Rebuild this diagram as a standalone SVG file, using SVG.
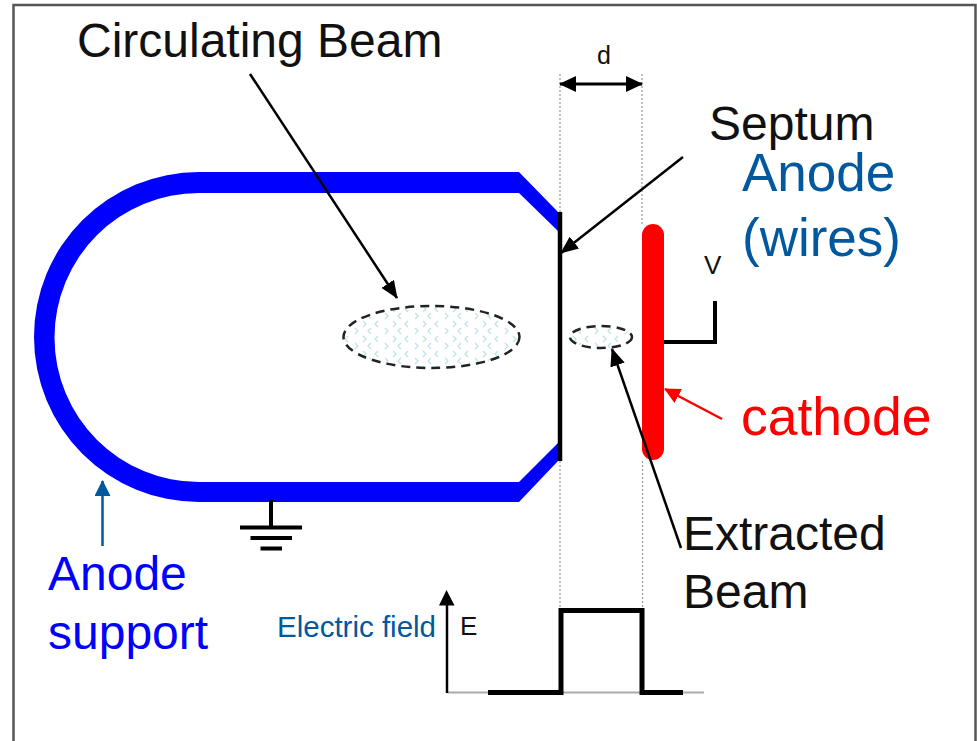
<svg xmlns="http://www.w3.org/2000/svg" width="977" height="741" viewBox="0 0 977 741">
<style>
text{font-family:"Liberation Sans",Arial,sans-serif}
.lbl{font-size:48px;fill:#111}
.blue{font-size:48px;fill:#0000ff}
.navy{font-size:53px;fill:#00589f}
.ln{fill:none;stroke:#000}
.dot{fill:none;stroke:#999;stroke-width:1.2;stroke-dasharray:2 2}
.beam{fill:url(#chev);stroke:#222;stroke-width:2.5;stroke-dasharray:9 6}
</style>
<defs>
<pattern id="chev" width="30" height="15" patternUnits="userSpaceOnUse" x="343" y="305">
<path d="M5 1l-3 3 3 3M20 1l3 3-3 3M12 8l3 3-3 3M28 8l-3 3 3 3" fill="none" stroke="#bfe2e6" stroke-width="1.3"/>
</pattern>
<marker id="a" markerUnits="userSpaceOnUse" markerWidth="18" markerHeight="15" refX="17" refY="7.500" orient="auto-start-reverse"><path d="M0 0L18 7.500L0 15z" fill="#000"/></marker>
<marker id="d" markerUnits="userSpaceOnUse" markerWidth="17" markerHeight="16" refX="16" refY="8" orient="auto-start-reverse"><path d="M0 0L17 8L0 16z" fill="#000"/></marker>
<marker id="r" markerUnits="userSpaceOnUse" markerWidth="16" markerHeight="16" refX="15" refY="8" orient="auto"><path d="M0 0L16 8L0 16z" fill="#f00"/></marker>
<marker id="b" markerUnits="userSpaceOnUse" markerWidth="16" markerHeight="16" refX="15" refY="8" orient="auto"><path d="M0 0L16 8L0 16z" fill="#00589f"/></marker>
</defs>
<rect width="977" height="741" fill="#fff"/>
<path id="frame" d="M13.500 741V5H975.500V741" fill="none" stroke="#555" stroke-width="2.500"/>
<g id="anode-support"><path d="M558 212L519 172H199A165 165 0 0 0 199 502H519L558 461V443L519 482H199A144.500 144.500 0 0 1 199 193H519L558 231Z" fill="#0000ff"/></g>
<g id="septum"><path class="ln" stroke-width="4.500" d="M560 212V461"/></g>
<g id="cathode"><path d="M653 235V449" fill="none" stroke="#f00" stroke-width="22" stroke-linecap="round"/></g>
<g id="circulating-beam"><ellipse class="beam" cx="431.500" cy="337" rx="88" ry="31"/></g>
<g id="extracted-beam"><ellipse class="beam" cx="601" cy="337" rx="31" ry="11"/></g>
<g id="ground"><path class="ln" stroke-width="4" d="M271 500V527M240 527.500H302M250.500 538H292M260.500 548.500H282"/></g>
<g id="voltage"><path class="ln" stroke-width="4" d="M664 342H715V301"/><text x="704" y="274" font-size="26" fill="#111">V</text></g>
<g id="connectors">
<path class="dot" d="M560 74V212M642 74V224M560 461V609M642.500 461V609"/>
<path class="ln" stroke-width="3" marker-start="url(#d)" marker-end="url(#d)" d="M560 84H642"/>
<path class="ln" stroke-width="2.500" marker-end="url(#a)" d="M250 74L397 298"/>
<path class="ln" stroke-width="2.500" marker-end="url(#a)" d="M683 157L561 253"/>
<path class="ln" stroke-width="2.500" marker-end="url(#a)" d="M681 548L612 349"/>
<path d="M722 419L665 389" fill="none" stroke="#f00" stroke-width="2.500" marker-end="url(#r)"/>
<path d="M102.500 546V481" fill="none" stroke="#00589f" stroke-width="2.500" marker-end="url(#b)"/>
</g>
<g id="plot">
<path d="M447 692.500H704" fill="none" stroke="#aaa" stroke-width="2"/>
<path class="ln" stroke-width="2.500" d="M447 693V600"/>
<path d="M439 605.500L446.500 590L454.500 605.500z" fill="#000"/>
<path class="ln" stroke-width="5" d="M488 692.500H561V610.500H642V692.500H683"/>
<text x="460" y="635" font-size="26" fill="#111">E</text>
<text x="277" y="637" font-size="29.500" fill="#00589f">Electric field</text>
</g>
<g id="labels">
<text class="lbl" x="77" y="57">Circulating Beam</text>
<text x="597" y="64" font-size="25" fill="#111">d</text>
<text class="lbl" x="709" y="140">Septum</text>
<text class="navy" x="742" y="191">Anode</text>
<text class="navy" x="742" y="256">(wires)</text>
<text x="741" y="434.500" font-size="53.500" fill="#f00">cathode</text>
<text class="lbl" x="683" y="550">Extracted</text>
<text class="lbl" x="683" y="608">Beam</text>
<text class="blue" x="48" y="590">Anode</text>
<text class="blue" x="48" y="649">support</text>
</g>
</svg>
